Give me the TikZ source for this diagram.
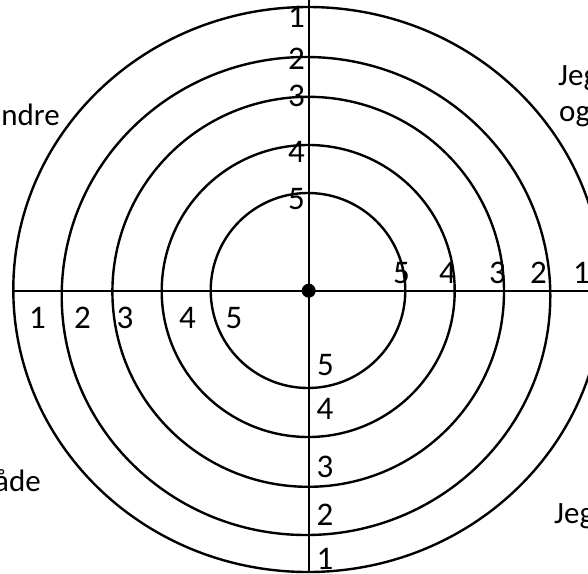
\documentclass[tikz,border=0pt]{standalone}
\usepackage{fontspec}
\setmainfont{Carlito}
\begin{document}
\begin{tikzpicture}[x=1pt,y=-1pt,
  ring/.style={line width=2.4pt},
  axis/.style={line width=1.7pt},
  num/.style={font=\fontsize{33}{35}\selectfont, inner sep=0pt},
  word/.style={font=\fontsize{31}{33}\selectfont, inner sep=0pt}]
\useasboundingbox (0,0) rectangle (588,573);
\clip (0,0) rectangle (588,573);
% rings
\draw[ring] (308,290.5) ellipse [x radius=97.3, y radius=97.5];
\draw[ring] (308.2,291) ellipse [x radius=146.5, y radius=146];
\draw[ring] (308.2,291.8) ellipse [x radius=195.8, y radius=195];
\draw[ring] (306,296) ellipse [x radius=244.3, y radius=239];
\draw[ring] (308,289.5) ellipse [x radius=294.7, y radius=282.5];
% axes
\coordinate (top) at (308.7,0);
\coordinate (bot) at (308.7,573);
\coordinate (lft) at (13.3,290.7);
\coordinate (rgt) at (588,290.7);
\coordinate (c) at (308.7,290.7);
\draw[axis] (top) -- (bot);
\draw[axis] (lft) -- (rgt);
\fill (c) circle [radius=7];
% top labels
\node[num,anchor=base east] (t1) at (305,27) {1};
\node[num,anchor=base east] (t2) at (305,69) {2};
\node[num,anchor=base east] (t3) at (305,106) {3};
\node[num,anchor=base east] (t4) at (305,162.7) {4};
\node[num,anchor=base east] (t5) at (305,209.3) {5};
% right labels
\node[num,anchor=base east] (r5) at (410,283.3) {5};
\node[num,anchor=base east] (r4) at (456,283.3) {4};
\node[num,anchor=base east] (r3) at (506,283.3) {3};
\node[num,anchor=base east] (r2) at (547,283.3) {2};
\node[num,anchor=base west] (r1) at (573,283.3) {1};
% left labels
\node[num,anchor=base west] (l1) at (29,328.3) {1};
\node[num,anchor=base west] (l2) at (74,328.3) {2};
\node[num,anchor=base west] (l3) at (116.5,328.3) {3};
\node[num,anchor=base west] (l4) at (179,328.3) {4};
\node[num,anchor=base west] (l5) at (225.5,328.3) {5};
% bottom labels
\node[num,anchor=base west] (b5) at (317,375) {5};
\node[num,anchor=base west] (b4) at (316.5,419.3) {4};
\node[num,anchor=base west] (b3) at (316.5,477.3) {3};
\node[num,anchor=base west] (b2) at (316.5,525) {2};
\node[num,anchor=base west] (b1) at (316.5,569.3) {1};
% side texts (cut at the picture's edges, as in the reference)
\node[word,anchor=base east] (w1) at (60,125.7) {ndre};
\node[word,anchor=base west] (w2) at (558,85) {Jeg};
\node[word,anchor=base west] (w3) at (559,121.7) {og};
\node[word,anchor=base east] (w4) at (41,491.7) {åde};
\node[word,anchor=base west] (w5) at (554,523) {Jeg};
\end{tikzpicture}
\end{document}
